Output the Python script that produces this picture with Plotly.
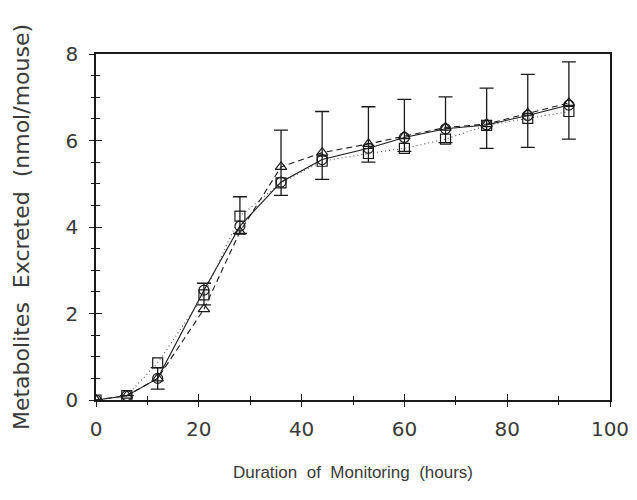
import plotly.graph_objects as go

# Data
hours = [0, 6, 12, 21, 28, 36, 44, 53, 60, 68, 76, 84, 92]
circle_vals = [0.0, 0.1, 0.5, 2.54, 4.02, 5.04, 5.56, 5.82, 6.07, 6.27, 6.36, 6.58, 6.82]
triangle_vals = [0.0, 0.1, 0.5, 2.1, 3.89, 5.39, 5.72, 5.92, 6.1, 6.3, 6.38, 6.63, 6.87]
square_vals = [0.0, 0.1, 0.86, 2.43, 4.25, 5.02, 5.52, 5.7, 5.82, 6.03, 6.35, 6.51, 6.67]
upper_caps = [0.0, 0.1, 0.75, 2.7, 4.7, 6.24, 6.67, 6.78, 6.95, 7.01, 7.21, 7.53, 7.82]
lower_caps = [0.0, 0.1, 0.25, 2.2, 3.85, 4.73, 5.1, 5.5, 5.75, 5.95, 5.82, 5.84, 6.03]

x_ticks = [0, 20, 40, 60, 80, 100]
y_ticks = [0, 2, 4, 6, 8]

err_plus = [u - c for u, c in zip(upper_caps, circle_vals)]
err_minus = [c - l for c, l in zip(circle_vals, lower_caps)]

FONT = "Liberation Sans"
WIDE = "DejaVu Sans"
INK = "#1a1a1a"
TXT = "#3a3a3a"

fig = go.Figure()

fig.add_trace(go.Scatter(
    x=hours, y=circle_vals, mode="lines+markers",
    line=dict(color=INK, width=1.1, dash="solid"),
    marker=dict(symbol="circle-open", size=10, color=INK, line=dict(width=1.2)),
    error_y=dict(type="data", symmetric=False, array=err_plus, arrayminus=err_minus,
                 color=INK, thickness=1.3, width=7),
    showlegend=False,
))
fig.add_trace(go.Scatter(
    x=hours, y=triangle_vals, mode="lines+markers",
    line=dict(color=INK, width=1.1, dash="6px,4px"),
    marker=dict(symbol="triangle-up-open", size=10, color=INK, line=dict(width=1.2)),
    showlegend=False,
))
fig.add_trace(go.Scatter(
    x=hours, y=square_vals, mode="lines+markers",
    line=dict(color="#555555", width=1.1, dash="1px,3px"),
    marker=dict(symbol="square-open", size=10, color=INK, line=dict(width=1.2)),
    showlegend=False,
))
# invisible trace on the overlay axes so they render
fig.add_trace(go.Scatter(x=[0], y=[0], xaxis="x2", yaxis="y2", mode="markers",
                         marker=dict(opacity=0), showlegend=False, hoverinfo="skip"))

fig.update_layout(
    width=637, height=500,
    margin=dict(l=88, r=35, t=46, b=108),
    paper_bgcolor="white", plot_bgcolor="white",
    font=dict(family=FONT, color=INK),
    xaxis=dict(
        range=[0, 100], tickvals=x_ticks, ticktext=[str(v) for v in x_ticks],
        ticks="inside", ticklen=6, tickwidth=1, tickcolor=INK,
        minor=dict(dtick=10, ticks="inside", ticklen=4, tickcolor=INK),
        showline=True, linecolor=INK, linewidth=1.5, mirror=True,
        showgrid=False, zeroline=False, ticklabelstandoff=10,
        tickfont=dict(family=WIDE, size=20, color=TXT),
        title=dict(text="Duration  of  Monitoring  (hours)", font=dict(size=17, color=TXT), standoff=26),
    ),
    yaxis=dict(
        range=[0, 8], tickvals=y_ticks, ticktext=[str(v) for v in y_ticks],
        ticks="inside", ticklen=6, tickwidth=1, tickcolor=INK,
        minor=dict(dtick=0.5, ticks="inside", ticklen=4, tickcolor=INK),
        showline=True, linecolor=INK, linewidth=1.5, mirror=True,
        showgrid=False, zeroline=False, ticklabelstandoff=12,
        tickfont=dict(family=WIDE, size=20, color=TXT),
        title=dict(text="Metabolites  Excreted  (nmol/mouse)", font=dict(family=WIDE, size=22, color=TXT), standoff=30),
    ),
    xaxis2=dict(
        range=[0, 100], overlaying="x", anchor="y", side="bottom",
        tickvals=x_ticks, showticklabels=False, ticks="outside", ticklen=6, tickcolor=INK,
        minor=dict(dtick=10, ticks="outside", ticklen=4, tickcolor=INK),
        showline=False, showgrid=False, zeroline=False,
    ),
    yaxis2=dict(
        range=[0, 8], overlaying="y", anchor="x", side="left",
        tickvals=y_ticks, showticklabels=False, ticks="outside", ticklen=6, tickcolor=INK,
        minor=dict(dtick=0.5, ticks="outside", ticklen=4, tickcolor=INK),
        showline=False, showgrid=False, zeroline=False,
    ),
)

fig.write_html("out.html")
